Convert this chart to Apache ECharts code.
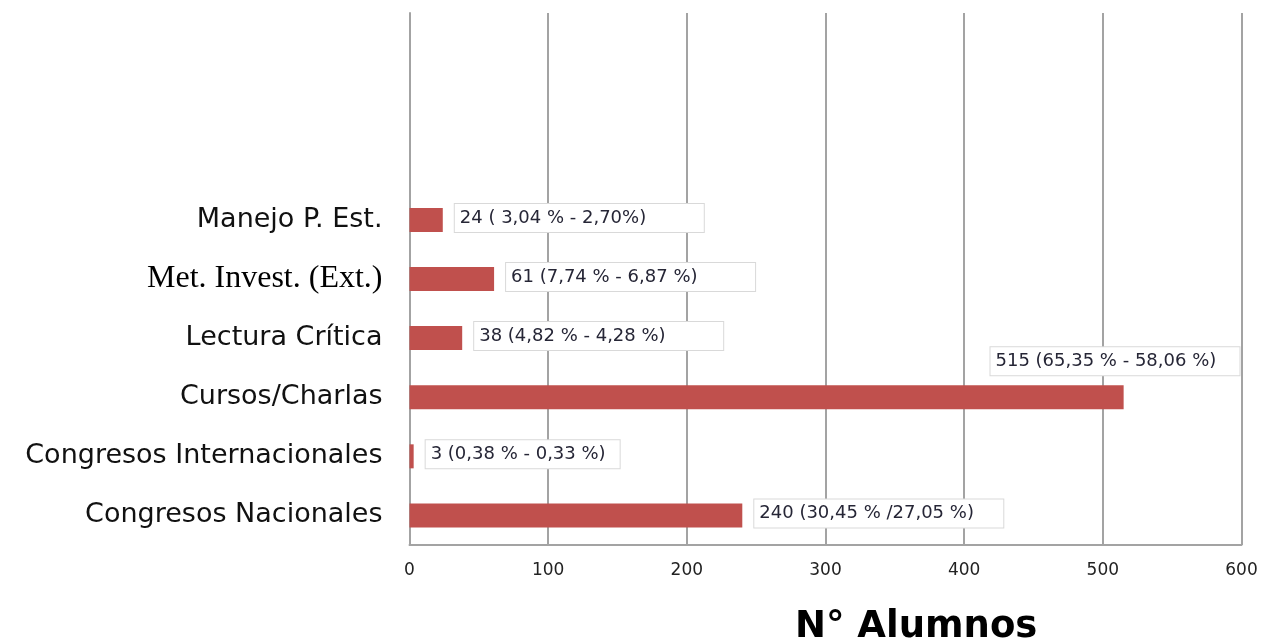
<!DOCTYPE html>
<html>
<head>
<meta charset="utf-8">
<script src="https://cdn.jsdelivr.net/npm/echarts@6/dist/echarts.min.js"></script>
<style>html,body{margin:0;padding:0;background:#fff}#c{width:1262px;height:643px}</style>
</head>
<body>
<div id="c"></div>
<script>
// Categories bottom-to-top; the three top slots are empty in the original
const categories = ['Congresos Nacionales', 'Congresos Internacionales', 'Cursos/Charlas', 'Lectura Crítica', 'Met. Invest. (Ext.)', 'Manejo P. Est.', '', '', ''];
const values = [240, 3, 515, 38, 61, 24, null, null, null];
const labelTexts = ['240 (30,45 % /27,05 %)', '3 (0,38 % - 0,33 %)', '515 (65,35 % - 58,06 %)', '38 (4,82 % - 4,28 %)', '61 (7,74 % - 6,87 %)', '24 ( 3,04 % - 2,70%)', '', '', ''];
const xTicks = [0, 100, 200, 300, 400, 500, 600];
const axisTitle = 'N° Alumnos';

const chart = echarts.init(document.getElementById('c'), null, {renderer: 'canvas'});

const seriesData = values.map(function (v, i) {
  const item = {value: v};
  if (categories[i] === 'Cursos/Charlas') {
    item.label = {position: [581, -36]};
  }
  if (categories[i] === 'Congresos Internacionales') {
    item.label = {width: 189};
  }
  return item;
});

chart.setOption({
  animation: false,
  backgroundColor: '#ffffff',
  grid: {left: 409.5, right: 20.5, top: 13, bottom: 98, containLabel: false},
  title: {
    text: axisTitle,
    left: 790,
    top: 604,
    textStyle: {fontFamily: 'DejaVu Sans', fontWeight: 'bold', fontSize: 37, color: '#000'}
  },
  xAxis: {
    type: 'value',
    min: xTicks[0],
    max: xTicks[xTicks.length - 1],
    interval: 100,
    axisLine: {show: true, lineStyle: {color: '#a3a3a3', width: 2}},
    axisTick: {show: false},
    splitLine: {show: true, lineStyle: {color: '#a3a3a3', width: 2}},
    axisLabel: {margin: 17, fontFamily: 'DejaVu Sans', fontSize: 17, color: '#222'}
  },
  yAxis: {
    type: 'category',
    data: categories,
    axisLine: {show: true, lineStyle: {color: '#a3a3a3', width: 2}},
    axisTick: {show: false},
    axisLabel: {
      margin: 27,
      fontFamily: 'DejaVu Sans',
      fontSize: 27,
      color: '#111',
      formatter: function (v) {
        if (v === 'Met. Invest. (Ext.)') return '{serif|' + v + '}';
        return v;
      },
      rich: {
        serif: {fontFamily: 'Liberation Serif', fontSize: 32, color: '#000'}
      }
    }
  },
  series: [{
    type: 'bar',
    data: seriesData,
    barWidth: 24,
    itemStyle: {color: '#c0504d'},
    label: {
      show: true,
      position: 'right',
      distance: 12,
      offset: [0, -2],
      formatter: function (p) { return labelTexts[p.dataIndex]; },
      fontFamily: 'DejaVu Sans',
      fontSize: 18,
      color: '#262636',
      backgroundColor: '#ffffff',
      borderColor: '#d9d9d9',
      borderWidth: 1,
      padding: [0, 0, 0, 5],
      width: 244,
      height: 28,
      lineHeight: 28,
      align: 'left'
    }
  }]
});
</script>
</body>
</html>
